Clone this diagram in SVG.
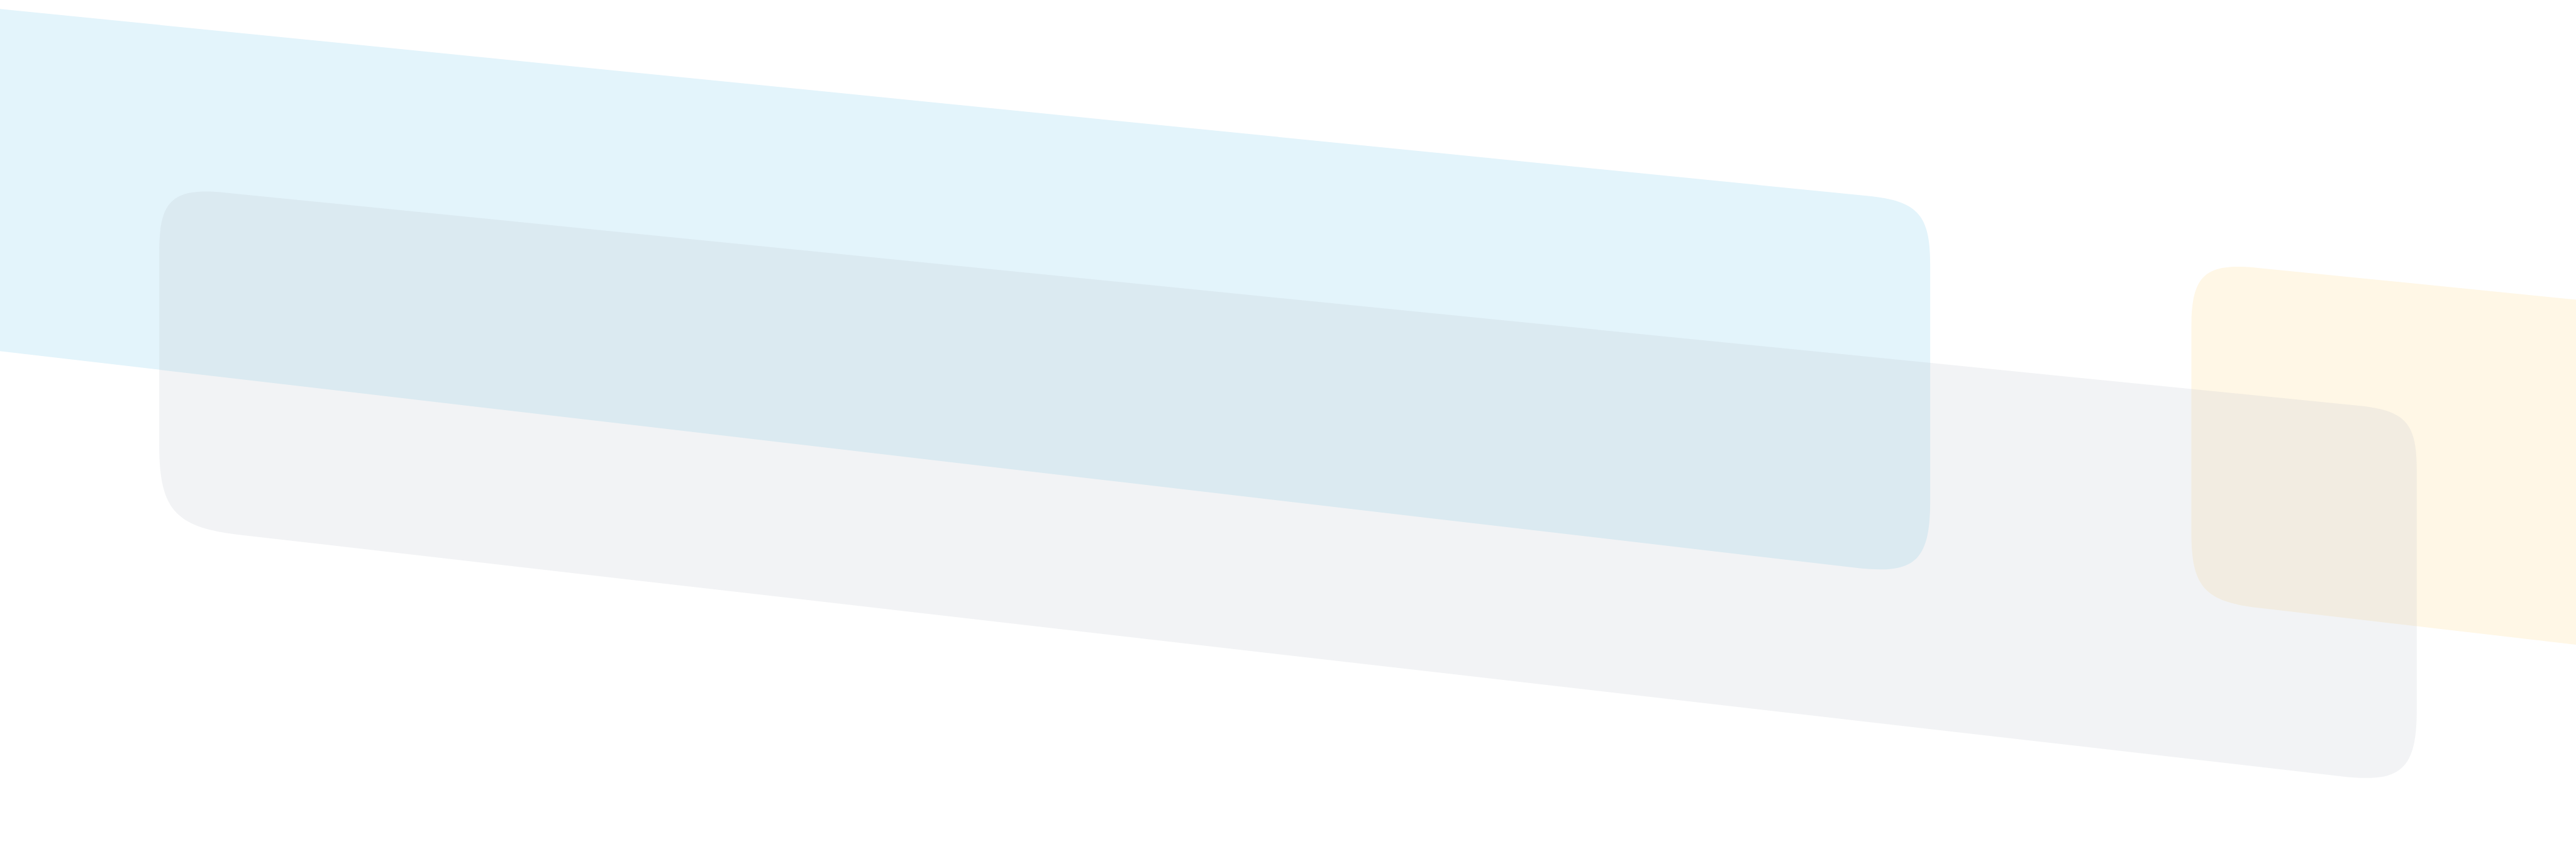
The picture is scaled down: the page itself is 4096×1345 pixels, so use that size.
<svg xmlns="http://www.w3.org/2000/svg" width="4096" height="1345" viewBox="0 0 4096 1345">
<style>
.blue{fill:#E3F4FB}
.yellow{fill:#FFF7E6}
.gray{fill:#BEC3CD;fill-opacity:0.2}
</style>
<rect x="0" y="0" width="4096" height="1345" fill="#FFFFFF"/>
<g transform="scale(0.711111)">
<g id="band-blue"><path class="blue" d="M -60,14 L 4176.7,438.1 C 4288.1,449.2 4316,480 4316,592 L 4316,1119 C 4316,1255 4282.2,1285.1 4147.2,1269.3 L -60,778 Z"/></g>
<g id="band-yellow"><path class="yellow" d="M 5800,674 L 5049.3,598.9 C 4930,587 4900,614 4900,734 L 4900,1191.5 C 4900,1311.5 4929.8,1345 5049,1358.8 L 5800,1446 Z"/></g>
<g id="band-gray"><path class="gray" d="M 356,566 C 356,446 385.9,419 505.3,430.9 L 5274.6,907.1 C 5378.1,917.4 5404,946 5404,1050 L 5404,1585 C 5404,1721 5370.2,1751.1 5235.1,1735.6 L 534.8,1195.5 C 391.8,1179.1 356,1139 356,995 Z"/></g>
</g>
</svg>
